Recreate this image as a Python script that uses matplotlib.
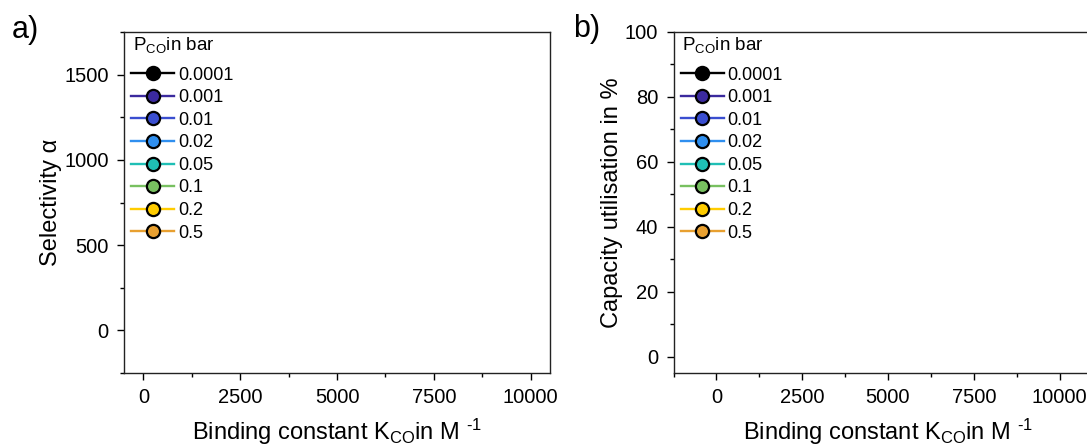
import matplotlib
matplotlib.use("Agg")
import matplotlib.pyplot as plt
from matplotlib.ticker import MultipleLocator

plt.rcParams['font.family'] = ['Liberation Sans', 'DejaVu Sans']
plt.rcParams['mathtext.fontset'] = 'custom'
plt.rcParams['mathtext.rm'] = 'Liberation Sans'
plt.rcParams['mathtext.it'] = 'Liberation Sans:italic'

# Data: legend series (no data points visible in the reference)
pressures = ["0.0001", "0.001", "0.01", "0.02", "0.05", "0.1", "0.2", "0.5"]
colors = ["#000000", "#3b2a9e", "#3a4ed0", "#2f8fef", "#1fbfb5", "#78c060", "#ffcc00", "#e8a030"]
binding_constant = []   # K_CO in M^-1
selectivity = []        # alpha
capacity = []           # %

a_xticks = [0, 2500, 5000, 7500, 10000]
a_yticks = [0, 500, 1000, 1500]
b_xticks = [0, 2500, 5000, 7500, 10000]
b_yticks = [0, 20, 40, 60, 80, 100]

W, H = 1087, 447
fig = plt.figure(figsize=(W / 100, H / 100), dpi=100)
ax_a = fig.add_axes([124 / W, (H - 373) / H, (550 - 124) / W, (373 - 32) / H])
ax_b = fig.add_axes([673.5 / W, (H - 373) / H, 429 / W, (373 - 32) / H])

xlabel = "Binding constant K$_\\mathregular{CO}$in M $^\\mathregular{\u2010 1}$"
title = r"P$_\mathregular{CO}$in bar"

for ax, ydata, xticks, yticks, ylim, ymin, xlim, ylabel, lp in [
    (ax_a, selectivity, a_xticks, a_yticks, (-250, 1750), 250, (-500, 10500), "Selectivity α", 1.5),
    (ax_b, capacity, b_xticks, b_yticks, (-5, 100), 10, (-1250, 11250), "Capacity utilisation in %", 1.0),
]:
    for p, c in zip(pressures, colors):
        ax.plot(binding_constant, ydata, '-o', color=c, lw=1.7, ms=9.5,
                mfc=c, mec='black', mew=1.6, label=p)
    ax.set_xlim(*xlim)
    ax.set_ylim(*ylim)
    ax.set_xticks(xticks)
    ax.set_yticks(yticks)
    ax.xaxis.set_minor_locator(MultipleLocator(1250))
    ax.yaxis.set_minor_locator(MultipleLocator(ymin))
    ax.tick_params(which='major', direction='out', length=5, width=1, labelsize=14.5,
                   top=False, right=False, pad=6)
    ax.tick_params(which='minor', direction='out', length=3, width=1, top=False, right=False)
    for s in ax.spines.values():
        s.set_linewidth(1.0)
        s.set_color('#222222')
    ax.set_xlabel(xlabel, fontsize=17, labelpad=7)
    ax.set_ylabel(ylabel, fontsize=17, labelpad=lp)
    w = ax.get_position().width * W
    ax.text(9 / w, (373 - 45) / 341, title, transform=ax.transAxes,
            fontsize=13.5, ha='left', va='center')
    ax.legend(loc='upper left', bbox_to_anchor=(7 / w, (373 - 66.5) / 341),
              frameon=False, fontsize=13, handlelength=2.4, handletextpad=0.2,
              labelspacing=0.31, borderaxespad=0, borderpad=0)

fig.text(25 / W, 1 - 30 / H, "a)", fontsize=22, ha='center', va='center')
fig.text(587 / W, 1 - 29 / H, "b)", fontsize=22, ha='center', va='center')

fig.savefig("out.png", dpi=100)
